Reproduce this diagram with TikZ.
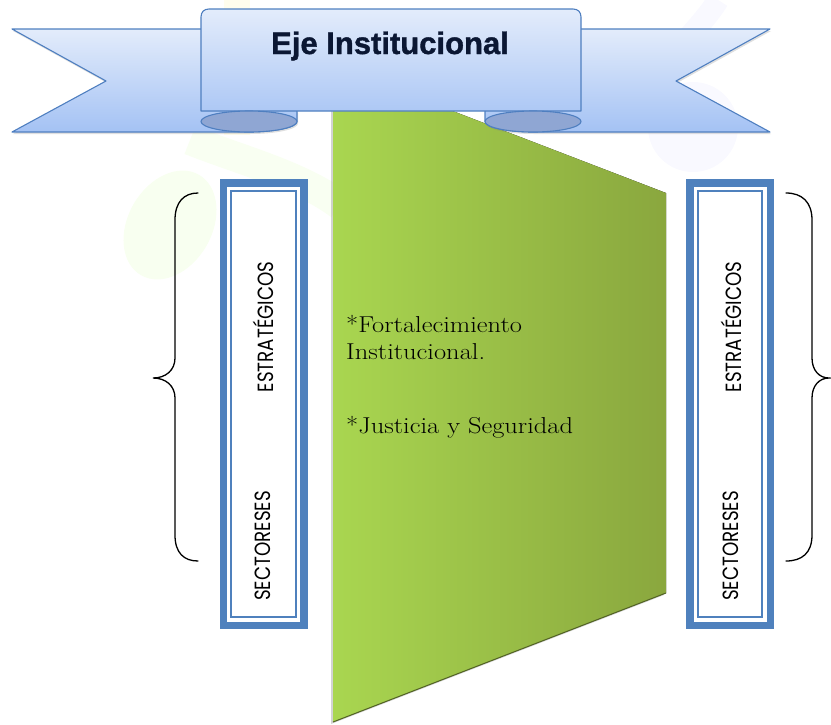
\documentclass[tikz,border=0pt]{standalone}
\usepackage{fontspec}
\newfontfamily\gothicfont{Poppins}[FakeStretch=0.83]
\newfontfamily\titlefont{Liberation Sans}[FakeBold=1.2]
\newfontfamily\leaffont{Latin Modern Roman}[FakeStretch=1.15]
\usetikzlibrary{shadows}
\definecolor{ribbonline}{HTML}{4F7FC0}
\definecolor{ribbontop}{HTML}{E3ECFB}
\definecolor{ribbonbottom}{HTML}{A4C2F4}
\definecolor{rolldark}{HTML}{8FA6D3}
\definecolor{frameblue}{HTML}{4F81BD}
\definecolor{leafleft}{HTML}{A9D650}
\definecolor{leafright}{HTML}{8AA73E}
\definecolor{titleink}{HTML}{0B1733}
\tikzset{
  wing/.style={draw=ribbonline, line width=1.1, top color=ribbontop,
    bottom color=ribbonbottom, line join=round,
    drop shadow={shadow xshift=1pt, shadow yshift=-2pt, opacity=.25}},
  ribbonbox/.style={draw=ribbonline, line width=1.1, top color=ribbontop,
    bottom color=ribbonbottom!90, line join=round},
  roll/.style={draw=ribbonline, line width=1.1, fill=rolldark},
  sideframe/.style={draw=frameblue, line width=7.5, fill=white,
    minimum width=80.5, minimum height=442.5, inner sep=0},
  innerframe/.style={draw=frameblue, line width=2.3,
    minimum width=64.5, minimum height=426.5, inner sep=0},
  sidetext/.style={rotate=90, font=\gothicfont\fontsize{22}{25}\selectfont},
  leaftext/.style={align=left, font=\leaffont\fontsize{23}{27}\selectfont, inner sep=0},
  brace/.style={draw=black, line width=1.3, line cap=round}
}
\begin{document}
\begin{tikzpicture}[x=1pt,y=-1pt]
  \useasboundingbox (0,0) rectangle (831,724);
  \fill[yellow!80!orange, opacity=.07] (224,0) rectangle (250,135);
  \fill[green!50!yellow, opacity=.06, rotate around={-30:(170,225)}]
    (170,225) ellipse [x radius=42, y radius=58];
  \draw[green!50!yellow, opacity=.05, line width=30]
    (190,140) .. controls (240,160) and (300,175) .. (340,205);
  \fill[blue!40, opacity=.06] (693,127) circle [radius=45];
  \draw[blue!40, opacity=.06, line width=22]
    (718,0) .. controls (700,30) and (660,60) .. (650,100);

  \fill[left color=leafleft, right color=leafright,
    drop shadow={shadow xshift=-2pt, shadow yshift=-2pt, opacity=.35}]
    (333,65) -- (666,193) -- (666,593) -- (333,722) -- cycle;
  \draw[leafright!60!black, line width=1] (333,722) -- (666,593);

  \draw[wing] (210,29) -- (12,29) -- (106,81) -- (12,132) -- (249,132)
    .. controls (275.5,132) and (297,127.3) .. (297,121.5) -- (297,111) -- cycle;
  \draw[wing] (572,29) -- (770,29) -- (676,81) -- (770,132) -- (533,132)
    .. controls (506.5,132) and (485,127.3) .. (485,121.5) -- (485,111) -- cycle;
  \draw[ribbonbox] (201,111) -- (201,17) .. controls (201,12) and (204,9) .. (209,9)
    -- (573,9) .. controls (578,9) and (581,12) .. (581,17) -- (581,111) -- cycle;
  \draw[roll] (249,121.5) ellipse [x radius=48, y radius=10.5];
  \draw[roll] (533,121.5) ellipse [x radius=48, y radius=10.5];
  \node[anchor=base, text=titleink,
    font=\titlefont\bfseries\fontsize{31}{36}\selectfont] (title) at (390,54)
    {Eje Institucional};

  \node[leaftext, anchor=base west] (fortalecimiento) at (346,359)
    {*Fortalecimiento\\Institucional.};
  \node[leaftext, anchor=base west] (justicia) at (346,433)
    {*Justicia y Seguridad};

  \node[sideframe] (frameL) at (263.5,404) {};
  \node[sideframe] (frameR) at (730,404) {};
  \node[innerframe] (innerL) at (frameL.center) {};
  \node[innerframe] (innerR) at (frameR.center) {};
  \node[sidetext] (estrategicosL) at (263,327) {ESTRATÉGICOS};
  \node[sidetext] (sectoresL) at (263,546) {SECTORESES};
  \node[sidetext] (estrategicosR) at (731,327) {ESTRATÉGICOS};
  \node[sidetext] (sectoresR) at (731,546) {SECTORESES};

  \draw[brace] (198,193) .. controls (184,193) and (175,202) .. (175,220)
    -- (175,358) .. controls (175,370) and (166,378) .. (153,378)
    .. controls (166,378) and (175,386) .. (175,398)
    -- (175,535) .. controls (175,553) and (184,561) .. (198,561);
  \draw[brace] (786,193) .. controls (802,193) and (812,202) .. (812,220)
    -- (812,358) .. controls (812,370) and (819,378) .. (829,378)
    .. controls (819,378) and (812,386) .. (812,398)
    -- (812,535) .. controls (812,553) and (802,561) .. (786,561);
\end{tikzpicture}
\end{document}
